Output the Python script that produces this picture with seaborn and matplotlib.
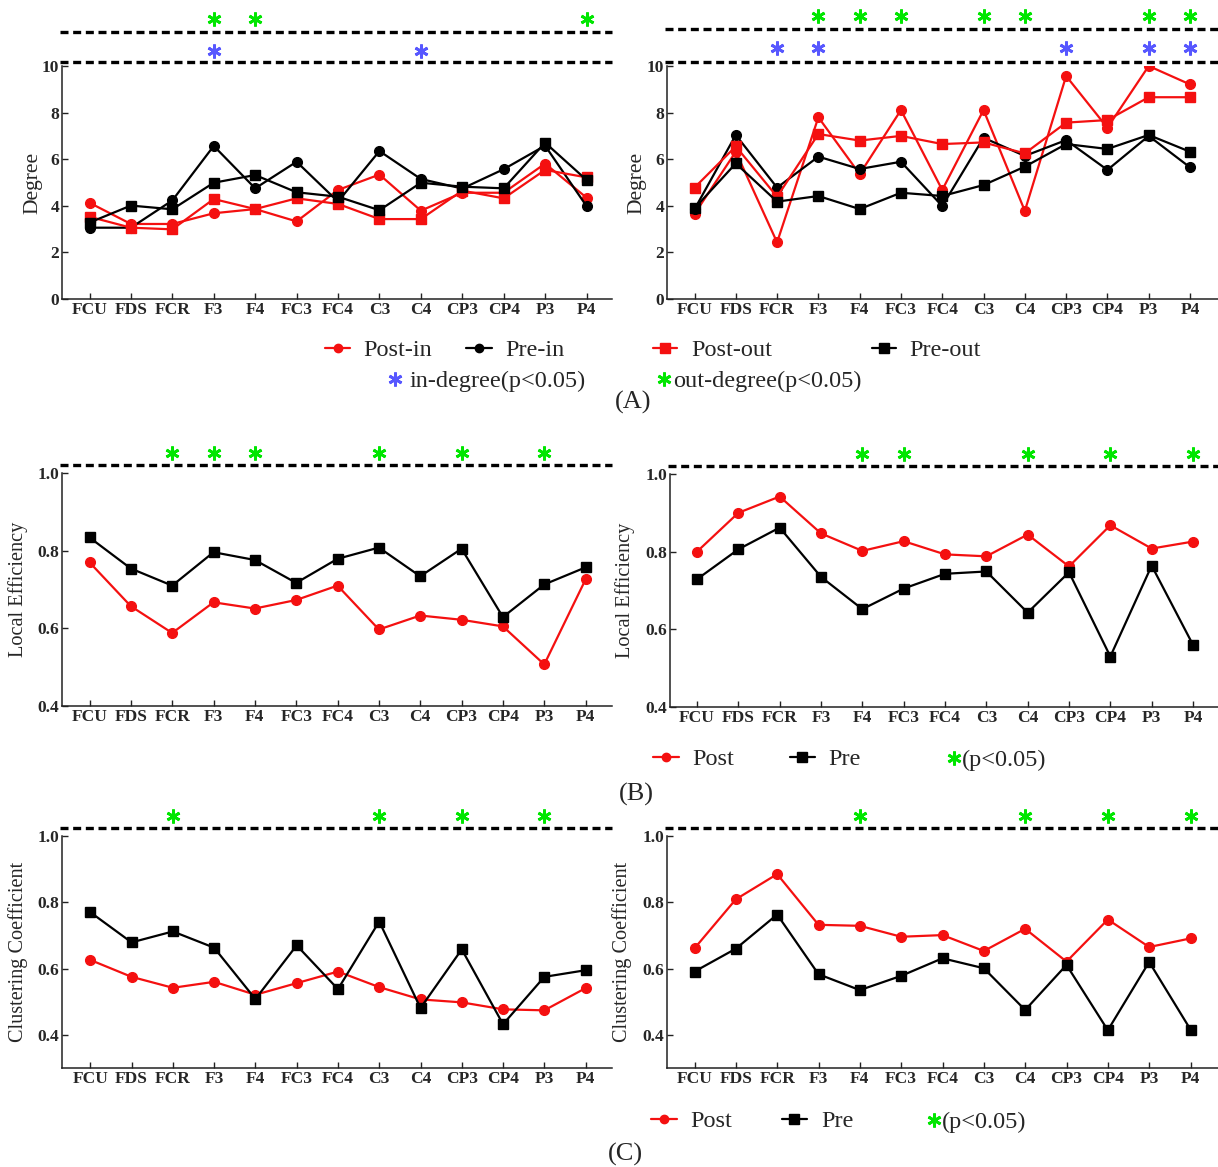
import numpy as np
import pandas as pd
import matplotlib
matplotlib.use("Agg")
import matplotlib.pyplot as plt
from matplotlib.lines import Line2D
import seaborn as sns

# ---------------- data ----------------
channels = ["FCU", "FDS", "FCR", "F3", "F4", "FC3", "FC4", "C3", "C4", "CP3", "CP4", "P3", "P4"]

# (A) Degree, left group
degA_L_post_in = [4.13, 3.22, 3.22, 3.68, 3.86, 3.33, 4.68, 5.34, 3.79, 4.56, 4.56, 5.81, 4.35]
degA_L_pre_in = [3.06, 3.06, 4.23, 6.57, 4.75, 5.89, 4.18, 6.35, 5.15, 4.74, 5.57, 6.58, 3.99]
degA_L_post_out = [3.53, 3.06, 2.99, 4.29, 3.86, 4.32, 4.08, 3.43, 3.43, 4.65, 4.32, 5.54, 5.22]
degA_L_pre_out = [3.28, 4.01, 3.85, 4.99, 5.32, 4.58, 4.39, 3.81, 4.99, 4.82, 4.75, 6.71, 5.11]

# (A) Degree, right group
degA_R_post_in = [3.65, 6.32, 2.43, 7.80, 5.36, 8.11, 4.68, 8.11, 3.78, 9.57, 7.35, 10.0, 9.21]
degA_R_pre_in = [3.85, 7.04, 4.78, 6.11, 5.58, 5.89, 3.99, 6.92, 6.14, 6.82, 5.54, 7.00, 5.65]
degA_R_post_out = [4.78, 6.55, 4.39, 7.08, 6.80, 7.00, 6.65, 6.72, 6.25, 7.57, 7.68, 8.66, 8.66]
degA_R_pre_out = [3.89, 5.82, 4.18, 4.42, 3.86, 4.56, 4.42, 4.89, 5.68, 6.65, 6.44, 7.04, 6.32]

# (B) Local efficiency
leB_L_post = [0.770, 0.657, 0.588, 0.667, 0.651, 0.673, 0.710, 0.597, 0.633, 0.622, 0.605, 0.507, 0.726]
leB_L_pre = [0.834, 0.754, 0.710, 0.796, 0.776, 0.717, 0.779, 0.808, 0.734, 0.805, 0.629, 0.713, 0.757]
leB_R_post = [0.800, 0.900, 0.942, 0.847, 0.802, 0.827, 0.793, 0.788, 0.844, 0.762, 0.868, 0.808, 0.826]
leB_R_pre = [0.729, 0.806, 0.862, 0.735, 0.652, 0.705, 0.743, 0.749, 0.643, 0.747, 0.530, 0.764, 0.560]

# (C) Clustering coefficient
ccC_L_post = [0.626, 0.575, 0.542, 0.560, 0.521, 0.556, 0.591, 0.544, 0.507, 0.498, 0.477, 0.474, 0.541]
ccC_L_pre = [0.770, 0.679, 0.712, 0.663, 0.508, 0.670, 0.538, 0.742, 0.481, 0.658, 0.432, 0.575, 0.595]
ccC_R_post = [0.661, 0.809, 0.885, 0.732, 0.729, 0.696, 0.701, 0.653, 0.720, 0.621, 0.748, 0.665, 0.691]
ccC_R_pre = [0.591, 0.660, 0.763, 0.583, 0.535, 0.578, 0.631, 0.601, 0.475, 0.611, 0.414, 0.620, 0.416]

# significant channels (p<0.05)
sigA_L_in = ["F3", "C4"]
sigA_L_out = ["F3", "F4", "P4"]
sigA_R_in = ["FCR", "F3", "CP3", "P3", "P4"]
sigA_R_out = ["F3", "F4", "FC3", "C3", "C4", "P3", "P4"]
sigB_L = ["FCR", "F3", "F4", "C3", "CP3", "P3"]
sigB_R = ["F4", "FC3", "C4", "CP4", "P4"]
sigC_L = ["FCR", "C3", "CP3", "P3"]
sigC_R = ["F4", "C4", "CP4", "P4"]

# ---------------- style ----------------
sns.set_theme(style="ticks")
plt.rcParams["font.family"] = ["Liberation Serif", "DejaVu Serif"]
plt.rcParams["mathtext.fontset"] = "stix"

W, H = 1218, 1167
fig = plt.figure(figsize=(W / 100, H / 100), dpi=100)

RED = "#f41010"
BLACK = "#000000"
GREEN = "#00e600"
BLUE = "#5757ff"
STAR = (6, 2, 0)


def px_axes(l, r, t, b):
    return fig.add_axes([l / W, 1 - b / H, (r - l) / W, (b - t) / H])


def draw_series(ax, values, color, marker, ms):
    df = pd.DataFrame({"pos": np.arange(len(channels)), "val": values})
    sns.lineplot(data=df, x="pos", y="val", ax=ax, sort=False, color=color,
                 linewidth=1.6, marker=marker, markersize=ms,
                 markeredgecolor=color, markerfacecolor=color, markeredgewidth=1.0)


def style_axes(ax, l, r, first_px, last_px, ylim, yticks, ylabels, ylabel, lab_x, lab_size):
    step = (last_px - first_px) / (len(channels) - 1)
    ax.set_xlim(-(first_px - l) / step, (len(channels) - 1) + (r - last_px) / step)
    ax.set_ylim(*ylim)
    ax.set_xticks(np.arange(len(channels)))
    ax.set_xticklabels(channels, fontweight="bold", fontsize=12.5)
    ax.set_yticks(yticks)
    ax.set_yticklabels(ylabels, fontweight="bold", fontsize=12.5)
    ax.tick_params(direction="in", length=4, width=1.0, pad=2, color="#222222")
    for side in ("top", "right"):
        ax.spines[side].set_visible(False)
    for side in ("left", "bottom"):
        ax.spines[side].set_linewidth(1.1)
        ax.spines[side].set_color("#222222")
    ax.set_xlabel("")
    ax.set_ylabel(ylabel, fontsize=lab_size)
    ax.yaxis.set_label_coords(lab_x, 0.5)
    ax.grid(False)


def sig_row(ax, names, y, color):
    idx = [channels.index(n) for n in names]
    ax.plot(idx, [y] * len(idx), linestyle="none", marker=STAR, markersize=10,
            markeredgewidth=2.0, color=color, clip_on=False)


def dash_line(ax, y):
    ax.axhline(y, xmin=-0.004, xmax=1.0, color="black", linewidth=2.4,
               linestyle=(0, (2.4, 1.4)), clip_on=False)


# ---------------- (A) Degree ----------------
deg_ticks = [0, 2, 4, 6, 8, 10]
deg_labels = ["0", "2", "4", "6", "8", "10"]

axAL = px_axes(62, 612, 66, 299)
draw_series(axAL, degA_L_post_in, RED, "o", 7)
draw_series(axAL, degA_L_pre_in, BLACK, "o", 7)
draw_series(axAL, degA_L_post_out, RED, "s", 7.5)
draw_series(axAL, degA_L_pre_out, BLACK, "s", 7.5)
style_axes(axAL, 62, 612, 89.5, 586.5, (0, 10), deg_ticks, deg_labels, "Degree", -0.035, 15.5)
dash_line(axAL, 10.18)
dash_line(axAL, 11.47)
sig_row(axAL, sigA_L_in, 10.66, BLUE)
sig_row(axAL, sigA_L_out, 12.0, GREEN)

axAR = px_axes(667, 1218, 66, 299)
draw_series(axAR, degA_R_post_in, RED, "o", 7)
draw_series(axAR, degA_R_pre_in, BLACK, "o", 7)
draw_series(axAR, degA_R_post_out, RED, "s", 7.5)
draw_series(axAR, degA_R_pre_out, BLACK, "s", 7.5)
style_axes(axAR, 667, 1218, 694.5, 1190, (0, 10), deg_ticks, deg_labels, "Degree", -0.038, 15.5)
dash_line(axAR, 10.18)
dash_line(axAR, 11.6)
sig_row(axAR, sigA_R_in, 10.77, BLUE)
sig_row(axAR, sigA_R_out, 12.15, GREEN)

# ---------------- (B) Local efficiency ----------------
eff_ticks = [0.4, 0.6, 0.8, 1.0]
eff_labels = ["0.4", "0.6", "0.8", "1.0"]

axBL = px_axes(62, 612, 473, 706)
draw_series(axBL, leB_L_post, RED, "o", 7)
draw_series(axBL, leB_L_pre, BLACK, "s", 7.5)
style_axes(axBL, 62, 612, 89.5, 585.6, (0.4, 1.0), eff_ticks, eff_labels, "Local Efficiency", -0.062, 14.6)
dash_line(axBL, 1.021)
sig_row(axBL, sigB_L, 1.052, GREEN)

axBR = px_axes(670, 1218, 474, 707)
draw_series(axBR, leB_R_post, RED, "o", 7)
draw_series(axBR, leB_R_pre, BLACK, "s", 7.5)
style_axes(axBR, 670, 1218, 697, 1193, (0.4, 1.0), eff_ticks, eff_labels, "Local Efficiency", -0.064, 14.6)
dash_line(axBR, 1.021)
sig_row(axBR, sigB_R, 1.052, GREEN)

# ---------------- (C) Clustering coefficient ----------------
axCL = px_axes(62, 612, 836, 1068)
draw_series(axCL, ccC_L_post, RED, "o", 7)
draw_series(axCL, ccC_L_pre, BLACK, "s", 7.5)
style_axes(axCL, 62, 612, 90.3, 585.6, (0.3, 1.0), eff_ticks, eff_labels, "Clustering Coefficient", -0.062, 14.6)
dash_line(axCL, 1.025)
sig_row(axCL, sigC_L, 1.06, GREEN)

axCR = px_axes(667, 1218, 836, 1068)
draw_series(axCR, ccC_R_post, RED, "o", 7)
draw_series(axCR, ccC_R_pre, BLACK, "s", 7.5)
style_axes(axCR, 667, 1218, 694.5, 1190.5, (0.3, 1.0), eff_ticks, eff_labels, "Clustering Coefficient", -0.064, 14.6)
dash_line(axCR, 1.025)
sig_row(axCR, sigC_R, 1.06, GREEN)


# ---------------- legends and panel tags ----------------
def fx(x):
    return x / W


def fy(y):
    return 1 - y / H


def legend_item(x0, x1, y, color, marker, ms, label, tx, line=True):
    if line:
        fig.add_artist(Line2D([fx(x0), fx(x1)], [fy(y), fy(y)], color=color,
                              linewidth=1.6, transform=fig.transFigure))
    fig.add_artist(Line2D([fx((x0 + x1) / 2)], [fy(y)], color=color, marker=marker,
                          markersize=ms, markeredgewidth=1.0 if marker != STAR else 2.0,
                          linestyle="none", transform=fig.transFigure))
    fig.text(fx(tx), fy(y), label, fontsize=17.5, ha="left", va="center_baseline")


legend_item(325, 350, 348, RED, "o", 6, "Post-in", 363)
legend_item(466, 492, 348, BLACK, "o", 6, "Pre-in", 505)
legend_item(653, 677, 348, RED, "s", 6.5, "Post-out", 691)
legend_item(872, 896, 348, BLACK, "s", 6.5, "Pre-out", 909)
legend_item(395, 395, 379, BLUE, STAR, 10, "in-degree(p<0.05)", 410, line=False)
legend_item(664, 664, 379, GREEN, STAR, 10, "out-degree(p<0.05)", 673, line=False)
fig.text(fx(633), fy(400), "(A)", fontsize=19, ha="center", va="center_baseline")

legend_item(653, 679, 757, RED, "o", 6, "Post", 692)
legend_item(790, 815, 757, BLACK, "s", 6.5, "Pre", 828)
legend_item(954, 954, 758, GREEN, STAR, 10, "(p<0.05)", 962, line=False)
fig.text(fx(636), fy(792), "(B)", fontsize=19, ha="center", va="center_baseline")

legend_item(651, 677, 1119, RED, "o", 6, "Post", 690)
legend_item(782, 807, 1119, BLACK, "s", 6.5, "Pre", 821)
legend_item(934, 934, 1120, GREEN, STAR, 10, "(p<0.05)", 942, line=False)
fig.text(fx(625), fy(1152), "(C)", fontsize=19, ha="center", va="center_baseline")

fig.savefig("out.png", dpi=100, facecolor="white")
